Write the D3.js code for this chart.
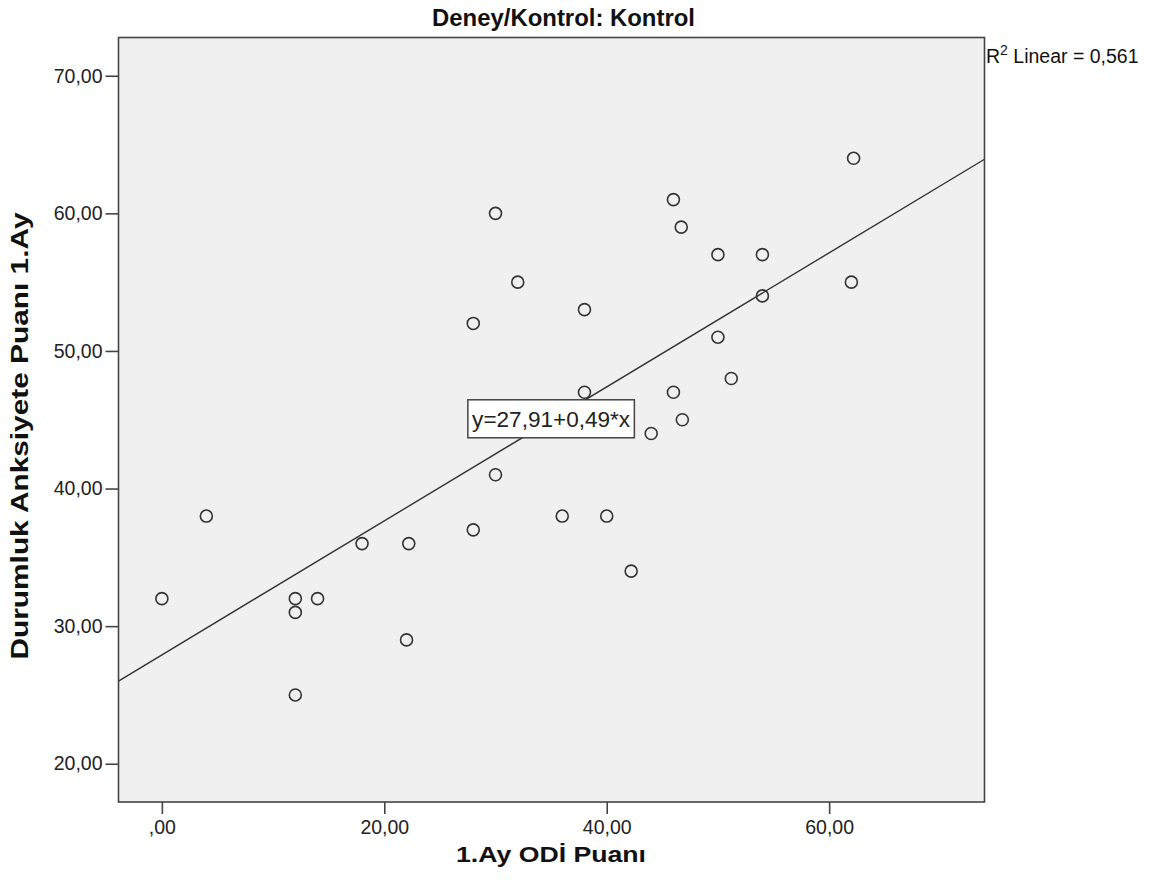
<!DOCTYPE html>
<html>
<head>
<meta charset="utf-8">
<script src="https://cdn.jsdelivr.net/npm/d3@7"></script>
<style>
  html, body { margin: 0; padding: 0; background: #ffffff; }
  svg { display: block; font-family: "Liberation Sans", Arial, sans-serif; }
</style>
</head>
<body>
<svg id="chart" width="1150" height="892"></svg>
<script>
// ---- data ----
const odiScores = [0, 4, 12, 12, 12, 14, 18, 22, 22.2, 28, 28, 30, 30, 32, 36, 38, 38, 40, 42.2, 44, 46, 46, 46.7, 46.8, 50, 50, 51.2, 54, 54, 62, 62.2];
const anxietyScores = [32, 38, 32, 31, 25, 32, 36, 29, 36, 52, 37, 60, 41, 55, 38, 53, 47, 38, 34, 44, 61, 47, 59, 45, 57, 51, 48, 57, 54, 55, 64];
const xTicks = [0, 20, 40, 60];
const xTickLabels = [",00", "20,00", "40,00", "60,00"];
const yTicks = [20, 30, 40, 50, 60, 70];
const yTickLabels = ["20,00", "30,00", "40,00", "50,00", "60,00", "70,00"];
const fitIntercept = [27.91];
const fitSlope = [0.487];
const titleText = "Deney/Kontrol: Kontrol";
const xTitle = "1.Ay ODİ Puanı";
const yTitle = "Durumluk Anksiyete Puanı 1.Ay";
const equationText = "y=27,91+0,49*x";
const r2Value = "0,561";

// ---- layout ----
const svg = d3.select("#chart");
const plot = { left: 118.5, right: 984.5, top: 37.5, bottom: 802 };

const x = d3.scaleLinear().domain([-3.9, 73.97]).range([plot.left, plot.right]);
const y = d3.scaleLinear().domain([17.22, 72.78]).range([plot.bottom, plot.top]);

// background
svg.append("rect")
  .attr("x", plot.left).attr("y", plot.top)
  .attr("width", plot.right - plot.left).attr("height", plot.bottom - plot.top)
  .attr("fill", "#f0f0f0");

// clip
svg.append("clipPath").attr("id", "clip").append("rect")
  .attr("x", plot.left).attr("y", plot.top)
  .attr("width", plot.right - plot.left).attr("height", plot.bottom - plot.top);

// fit line
const xd = x.domain();
const fitLine = d3.line().x(d => x(d[0])).y(d => y(d[1]));
svg.append("path")
  .attr("clip-path", "url(#clip)")
  .datum(xd.map(v => [v, fitIntercept[0] + fitSlope[0] * v]))
  .attr("d", fitLine)
  .attr("fill", "none")
  .attr("stroke", "#333")
  .attr("stroke-width", 1.4);

// points
svg.append("g").selectAll("circle")
  .data(odiScores.map((v, i) => [v, anxietyScores[i]]))
  .join("circle")
  .attr("cx", d => x(d[0]))
  .attr("cy", d => y(d[1]))
  .attr("r", 6)
  .attr("fill", "none")
  .attr("stroke", "#333")
  .attr("stroke-width", 1.6);

// equation label
const eqCx = x(35.0), eqCy = y(45.07);
const eqW = 166.5, eqH = 38;
svg.append("rect")
  .attr("x", eqCx - eqW / 2).attr("y", eqCy - eqH / 2)
  .attr("width", eqW).attr("height", eqH)
  .attr("fill", "#ffffff").attr("stroke", "#444").attr("stroke-width", 1.5);
svg.append("text")
  .attr("x", eqCx - 79).attr("y", eqCy + 8)
  .attr("font-size", 22)
  .attr("textLength", 158).attr("lengthAdjust", "spacingAndGlyphs")
  .attr("fill", "#222")
  .text(equationText);

// frame
svg.append("rect")
  .attr("x", plot.left).attr("y", plot.top)
  .attr("width", plot.right - plot.left).attr("height", plot.bottom - plot.top)
  .attr("fill", "none").attr("stroke", "#444").attr("stroke-width", 1.6);

// axes
const xAxis = d3.axisBottom(x).tickValues(xTicks).tickSize(12).tickPadding(6)
  .tickFormat((d, i) => xTickLabels[i]);
const gx = svg.append("g").attr("transform", `translate(0,${plot.bottom})`).call(xAxis);
gx.select(".domain").remove();
gx.selectAll(".tick line").attr("stroke", "#444").attr("stroke-width", 1.6);
gx.selectAll(".tick text").attr("font-size", 19.5).attr("fill", "#222")
  .attr("font-family", "'Liberation Sans', Arial, sans-serif");

const yAxis = d3.axisLeft(y).tickValues(yTicks).tickSize(13).tickPadding(3)
  .tickFormat((d, i) => yTickLabels[i]);
const gy = svg.append("g").attr("transform", `translate(${plot.left},0)`).call(yAxis);
gy.select(".domain").remove();
gy.selectAll(".tick line").attr("stroke", "#444").attr("stroke-width", 1.6);
gy.selectAll(".tick text").attr("font-size", 19.5).attr("fill", "#222")
  .attr("font-family", "'Liberation Sans', Arial, sans-serif");

// title
svg.append("text")
  .attr("x", 563.5).attr("y", 26)
  .attr("text-anchor", "middle")
  .attr("font-size", 23).attr("font-weight", "bold")
  .attr("textLength", 263).attr("lengthAdjust", "spacingAndGlyphs")
  .attr("fill", "#111")
  .text(titleText);

// R2 label
const r2 = svg.append("text")
  .attr("x", 986).attr("y", 63)
  .attr("font-size", 19.5).attr("fill", "#111");
r2.append("tspan").text("R");
r2.append("tspan").attr("dy", -8).attr("font-size", 14).text("2");
r2.append("tspan").attr("dy", 8).text(" Linear = " + r2Value);

// x title
svg.append("text")
  .attr("x", 551).attr("y", 862)
  .attr("text-anchor", "middle")
  .attr("font-size", 22).attr("font-weight", "bold")
  .attr("textLength", 190).attr("lengthAdjust", "spacingAndGlyphs")
  .attr("fill", "#111")
  .text(xTitle);

// y title
svg.append("text")
  .attr("transform", "translate(28,436) rotate(-90)")
  .attr("text-anchor", "middle")
  .attr("font-size", 24).attr("font-weight", "bold")
  .attr("textLength", 447).attr("lengthAdjust", "spacingAndGlyphs")
  .attr("fill", "#111")
  .text(yTitle);
</script>
</body>
</html>
